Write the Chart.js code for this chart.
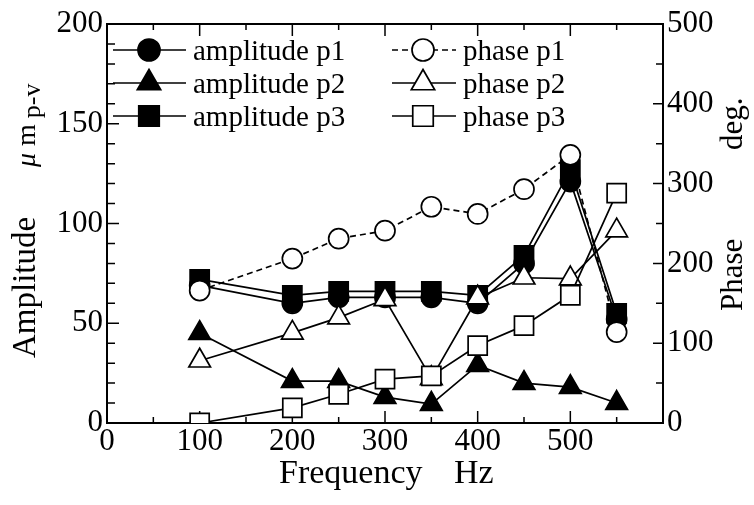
<!DOCTYPE html>
<html>
<head>
<meta charset="utf-8">
<script src="https://cdn.jsdelivr.net/npm/chart.js@4.4.1/dist/chart.umd.min.js"></script>
<style>
  html, body { margin: 0; padding: 0; background: #fff; }
  #wrap { width: 754px; height: 505px; }
</style>
</head>
<body>
<div id="wrap"><canvas id="Chart"></canvas></div>
<script>
// frequency in Hz
const frequencies = [100, 200, 250, 300, 350, 400, 450, 500, 550];

// amplitude, micrometre peak-to-valley (left axis)
const amplitudeP1 = [69, 60, 63, 63, 63, 60, 80, 121, 52];
const amplitudeP2 = [45, 21, 21, 13, 9.5, 29, 20, 18, 10];
const amplitudeP3 = [72, 64, 66, 66, 66, 64, 84, 127, 55];

// phase, degrees (right axis)
const phaseP1 = [166, 206, 231, 241, 271, 262, 293, 336, 114];
const phaseP2 = [78, 113, 132, 155, 56, 157, 182, 181, 241];
const phaseP3 = [0, 19, 36, 55, 59, 97, 122, 160, 288];

const xTicks = [0, 100, 200, 300, 400, 500];

const SERIF = "'Liberation Serif', 'DejaVu Serif', serif";

function toPoints(values) {
  return frequencies.map((f, i) => ({ x: f, y: values[i] }));
}

function series(label, values, axis, style, filled, radius, order, dash) {
  return {
    label: label,
    data: toPoints(values),
    yAxisID: axis,
    borderColor: "#000",
    backgroundColor: filled ? "#000" : "#fff",
    borderWidth: 1.7,
    borderDash: dash || [],
    pointStyle: style,
    pointRadius: radius,
    pointHoverRadius: radius,
    pointBackgroundColor: filled ? "#000" : "#fff",
    pointBorderColor: "#000",
    pointBorderWidth: 1.7,
    tension: 0,
    fill: false,
    order: order,
  };
}

// inward tick marks on all four sides + top frame line
const frameTicks = {
  id: "frameTicks",
  beforeDatasetsDraw(chart) {
    const { ctx, chartArea: a, scales } = chart;
    ctx.save();
    ctx.strokeStyle = "#000";
    ctx.lineWidth = 2;
    ctx.beginPath();
    ctx.moveTo(a.left, a.top);
    ctx.lineTo(a.right, a.top);
    ctx.stroke();
    ctx.lineWidth = 1.5;
    ctx.beginPath();
    for (let v = 0; v <= 600; v += 50) {
      const px = scales.x.getPixelForValue(v);
      const len = v % 100 === 0 ? 12 : 6;
      ctx.moveTo(px, a.bottom);
      ctx.lineTo(px, a.bottom - len);
      ctx.moveTo(px, a.top);
      ctx.lineTo(px, a.top + len);
    }
    for (let v = 0; v <= 200; v += 10) {
      const py = scales.y.getPixelForValue(v);
      const len = v % 50 === 0 ? 12 : 8;
      ctx.moveTo(a.left, py);
      ctx.lineTo(a.left + len, py);
    }
    for (let v = 0; v <= 500; v += 50) {
      const py = scales.y2.getPixelForValue(v);
      const len = v % 100 === 0 ? 10 : 7;
      ctx.moveTo(a.right, py);
      ctx.lineTo(a.right - len, py);
    }
    ctx.stroke();
    ctx.restore();
  },
};

// two-column legend with line samples
const lineLegend = {
  id: "lineLegend",
  afterDatasetsDraw(chart) {
    const ctx = chart.ctx;
    const cols = [
      { x0: 113, x1: 186, mx: 149, tx: 193 },
      { x0: 392, x1: 456, mx: 423, tx: 463 },
    ];
    const rows = [50, 83, 116];
    ctx.save();
    chart.data.datasets.forEach((ds, k) => {
      const c = cols[Math.floor(k / 3)];
      const y = rows[k % 3];
      ctx.strokeStyle = "#000";
      ctx.lineWidth = 1.7;
      ctx.setLineDash(ds.borderDash);
      ctx.beginPath();
      ctx.moveTo(c.x0, y);
      ctx.lineTo(c.x1, y);
      ctx.stroke();
      ctx.setLineDash([]);
      ctx.fillStyle = ds.pointBackgroundColor;
      ctx.strokeStyle = "#000";
      Chart.helpers.drawPoint(ctx, {
        pointStyle: ds.pointStyle,
        radius: ds.pointRadius + 1,
        rotation: 0,
        borderWidth: 1.7,
      }, c.mx, y);
      ctx.fillStyle = "#000";
      ctx.font = "29px " + SERIF;
      ctx.textAlign = "left";
      ctx.textBaseline = "alphabetic";
      ctx.fillText(ds.label, c.tx, y + 10);
    });
    ctx.restore();
  },
};

// axis titles (rotated, with subscript on the left one)
const axisTitles = {
  id: "axisTitles",
  afterDraw(chart) {
    const ctx = chart.ctx;
    ctx.save();
    ctx.fillStyle = "#000";
    ctx.textBaseline = "alphabetic";
    ctx.textAlign = "left";

    // bottom
    ctx.font = "34px " + SERIF;
    ctx.fillText("Frequency", 279, 483);
    ctx.fillText("Hz", 454, 483);

    // left
    ctx.save();
    ctx.translate(35, 0);
    ctx.rotate(-Math.PI / 2);
    ctx.font = "33px " + SERIF;
    ctx.fillText("Amplitude", -358, 0);
    let u = -167;
    ctx.font = "italic 28px " + SERIF;
    ctx.fillText("\u03bc", u, 0);
    u += ctx.measureText("\u03bc").width;
    ctx.font = "28px " + SERIF;
    ctx.fillText(" m", u, 0);
    u += ctx.measureText(" m").width + 6;
    ctx.font = "26px " + SERIF;
    ctx.fillText("p-v", u, 5);
    ctx.restore();

    // right
    ctx.save();
    ctx.translate(742, 0);
    ctx.rotate(-Math.PI / 2);
    ctx.font = "31px " + SERIF;
    ctx.fillText("Phase", -311, 0);
    ctx.fillText("deg.", -150, 0);
    ctx.restore();

    ctx.restore();
  },
};

const tickFont = { family: SERIF, size: 31 };

new Chart(document.getElementById("Chart"), {
  type: "line",
  data: {
    datasets: [
      series("amplitude p1", amplitudeP1, "y", "circle", true, 10, 4),
      series("amplitude p2", amplitudeP2, "y", "triangle", true, 12.5, 6),
      series("amplitude p3", amplitudeP3, "y", "rect", true, 13.5, 5),
      series("phase p1", phaseP1, "y2", "circle", false, 10, 3, [6, 4]),
      series("phase p2", phaseP2, "y2", "triangle", false, 12.5, 2),
      series("phase p3", phaseP3, "y2", "rect", false, 13.5, 1),
    ],
  },
  options: {
    responsive: true,
    maintainAspectRatio: false,
    animation: false,
    layout: { padding: { top: 24, left: 0, right: 0, bottom: 0 } },
    plugins: {
      legend: { display: false },
      tooltip: { enabled: false },
    },
    scales: {
      x: {
        type: "linear",
        position: "bottom",
        min: 0,
        max: 600,
        afterFit: (s) => { s.height = 82; },
        afterBuildTicks: (s) => { s.ticks = xTicks.map((v) => ({ value: v })); },
        ticks: { color: "#000", font: tickFont, padding: 0, maxRotation: 0, autoSkip: false },
        grid: { display: false, drawTicks: false },
        border: { display: true, color: "#000", width: 2 },
      },
      y: {
        position: "left",
        min: 0,
        max: 200,
        afterFit: (s) => { s.width = 107; },
        ticks: { stepSize: 50, color: "#000", font: tickFont, padding: 4 },
        grid: { display: false, drawTicks: false },
        border: { display: true, color: "#000", width: 2 },
      },
      y2: {
        position: "right",
        min: 0,
        max: 500,
        afterFit: (s) => { s.width = 91; },
        ticks: { stepSize: 100, color: "#000", font: tickFont, padding: 4 },
        grid: { display: false, drawTicks: false },
        border: { display: true, color: "#000", width: 2 },
      },
    },
  },
  plugins: [frameTicks, lineLegend, axisTitles],
});
</script>
</body>
</html>
